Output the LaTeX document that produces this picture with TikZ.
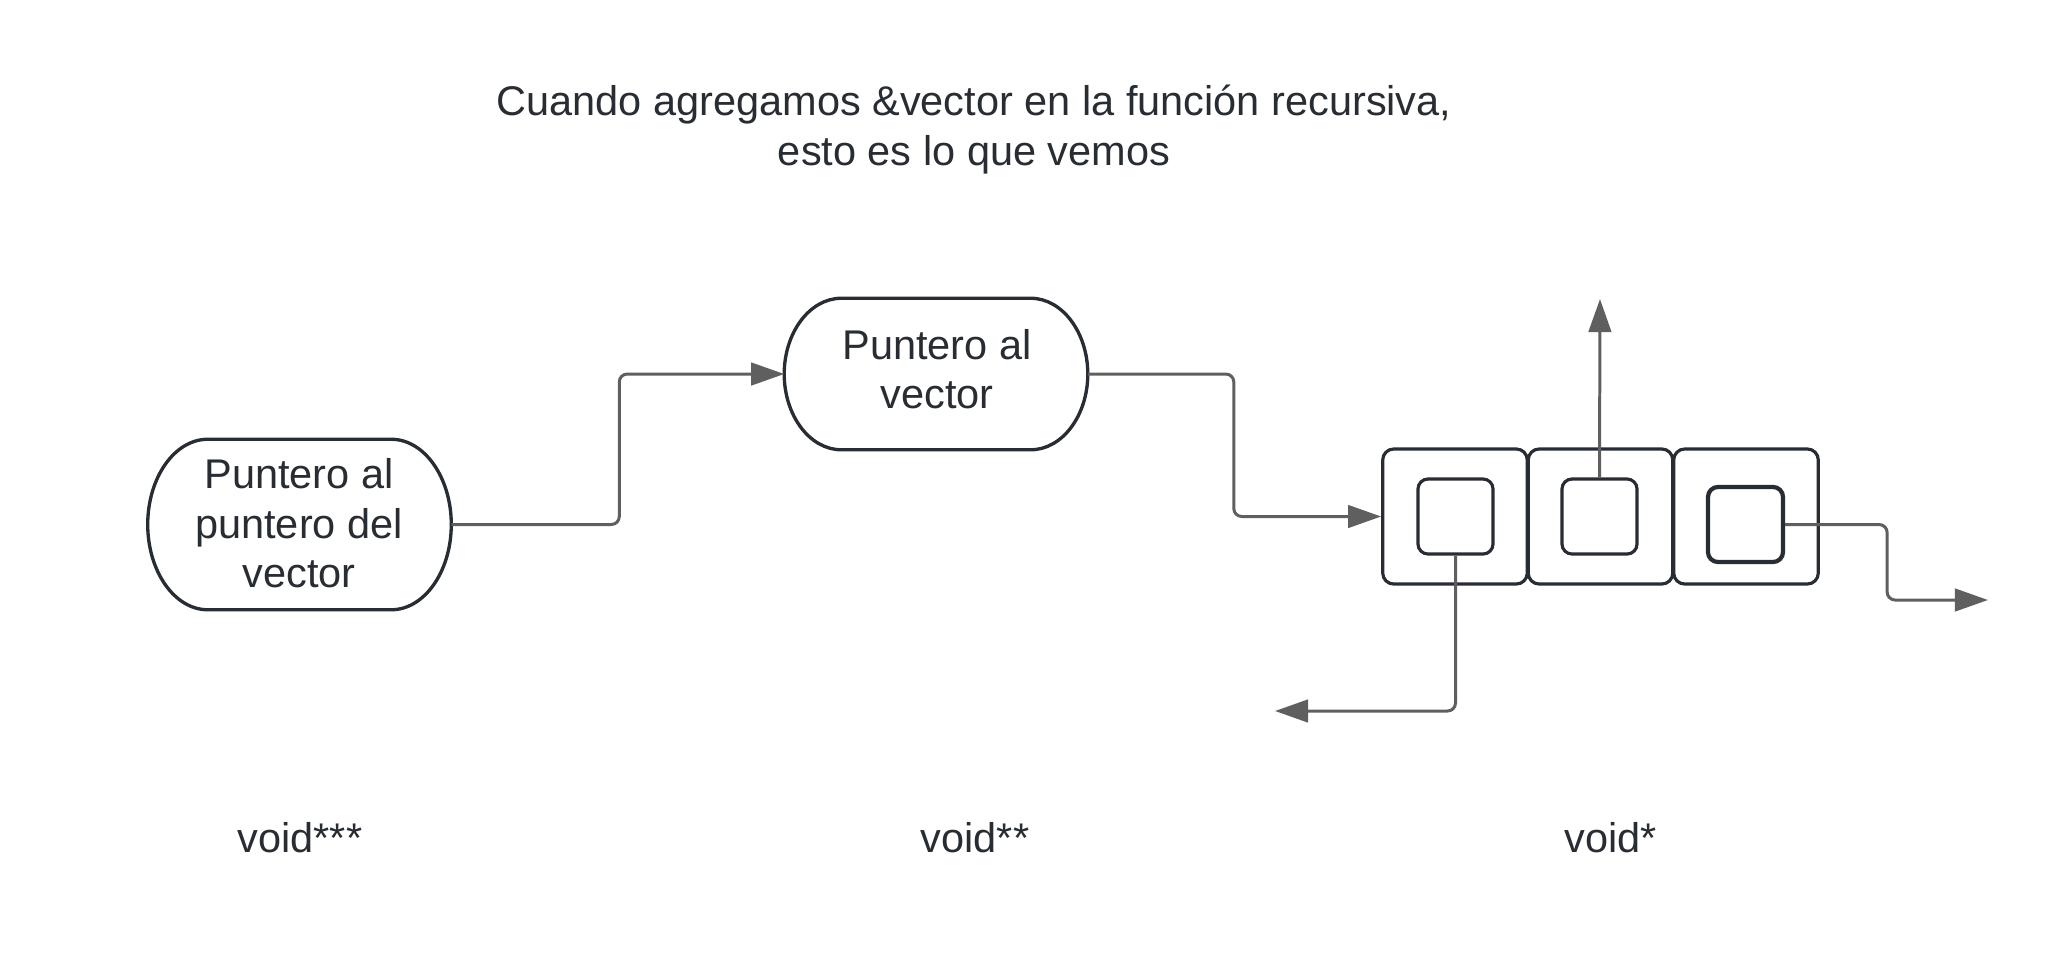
\documentclass[tikz,border=0pt]{standalone}
\usepackage{fontspec}
\setmainfont{Liberation Sans}
\usetikzlibrary{arrows.meta}
\definecolor{ink}{HTML}{282C33}
\definecolor{wire}{HTML}{5F5F5F}
\tikzset{
  txt/.style={text=ink, font=\fontsize{11.8pt}{14.1pt}\selectfont, align=center, inner sep=0pt},
  pillbox/.style={draw=none, minimum width=3.02cm, inner sep=0pt},
  border/.style={draw=ink, line width=0.95pt},
  cell/.style={draw=ink, line width=0.9pt, rounded corners=0.11cm, minimum width=1.445cm, minimum height=1.35cm, inner sep=0pt},
  slot/.style={draw=ink, line width=0.9pt, rounded corners=0.1cm, minimum width=0.75cm, minimum height=0.75cm, inner sep=0pt},
  conn/.style={draw=wire, line width=0.85pt, rounded corners=0.08cm, -{Triangle[length=9.4pt,width=6.4pt]}}
}
% #1 node name, #2 end x-radius, #3 (x-radius minus kappa*x-radius), #4 kappa*y-radius
\newcommand\pillpath[4]{%
  \draw[border] ([xshift=#2]#1.north west) -- ([xshift=-#2]#1.north east)
    .. controls ([xshift=-#3]#1.north east) and ([yshift=#4]#1.east) .. (#1.east)
    .. controls ([yshift=-#4]#1.east) and ([xshift=-#3]#1.south east) .. ([xshift=-#2]#1.south east)
    -- ([xshift=#2]#1.south west)
    .. controls ([xshift=#3]#1.south west) and ([yshift=-#4]#1.west) .. (#1.west)
    .. controls ([yshift=#4]#1.west) and ([xshift=#3]#1.north west) .. ([xshift=#2]#1.north west)
    -- cycle;}
\begin{document}
\begin{tikzpicture}[x=0.01cm,y=-0.01cm]
\useasboundingbox (0,0) rectangle (2057,975);
% title
\node[txt] (title) at (974,129.5) {Cuando agregamos \&vector en la función recursiva,\\esto es lo que vemos};
% pills
\node[pillbox, minimum height=1.69cm] (n1) at (299.5,524.5) {};
\pillpath{n1}{0.6cm}{0.268cm}{0.467cm}
\node[txt] (t1) at (299,523.5) {Puntero al\\puntero del\\vector};
\node[pillbox, minimum height=1.50cm] (n2) at (936,374) {};
\pillpath{n2}{0.57cm}{0.255cm}{0.414cm}
\node[txt] (t2) at (937,369) {Puntero al\\vector};
% cells
\node[cell] (b1) at (1455,516.5) {};
\node[cell] (b2) at (1600.5,516.5) {};
\node[cell] (b3) at (1746,516.5) {};
\node[slot] (i1) at (1455.5,516.5) {};
\node[slot] (i2) at (1599.5,516.5) {};
\node[slot, line width=1.2pt] (i3) at (1745.5,524.5) {};
% free ends
\coordinate (up) at (1600,299);
\coordinate (dl) at (1275,711);
\coordinate (rt) at (1988,600);
% connectors
\draw[conn] (n1.east) -- ++(168,0) |- (n2.west);
\draw[conn] (n2.east) -- ++(146,0) |- (b1.west);
\draw[conn] (i2.north) -- (up);
\draw[conn] (i1.south) |- (dl);
\draw[conn] (i3.east) -- ++(102,0) |- (rt);
% labels
\node[txt] (l1) at (300,838) {void***};
\node[txt] (l2) at (975,838) {void**};
\node[txt] (l3) at (1611,838) {void*};
\end{tikzpicture}
\end{document}
